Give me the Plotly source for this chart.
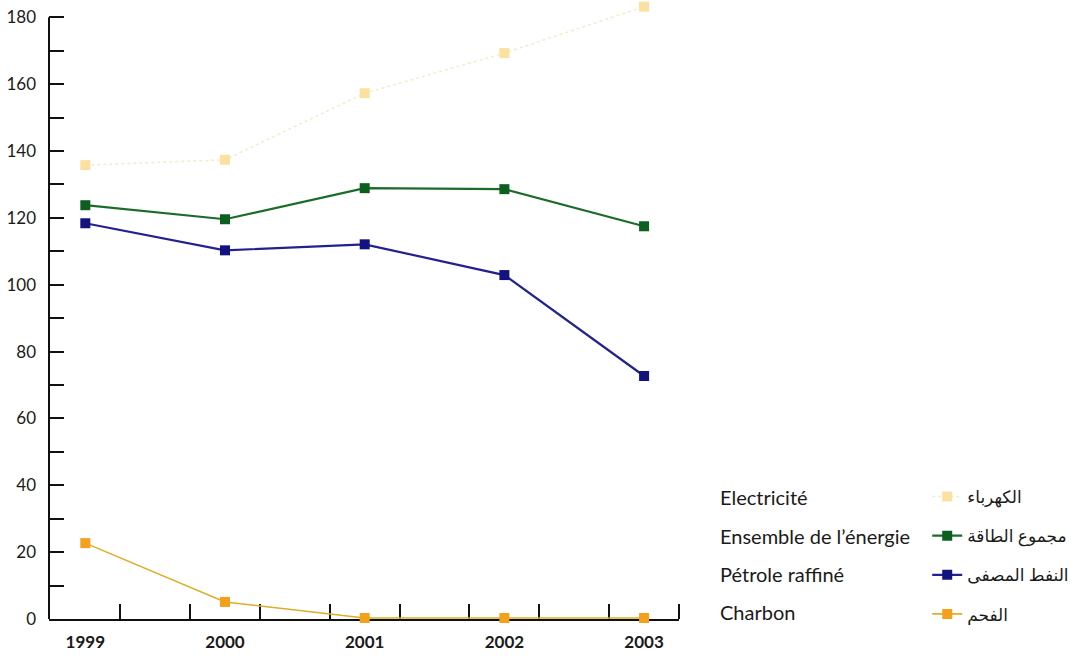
import plotly.graph_objects as go

years = [1999, 2000, 2001, 2002, 2003]
year_labels = ["1999", "2000", "2001", "2002", "2003"]

electricite = [135.8, 137.4, 157.3, 169.3, 183.2]
ensemble_energie = [123.8, 119.6, 128.9, 128.6, 117.5]
petrole_raffine = [118.4, 110.3, 112.1, 102.9, 72.7]
charbon = [22.7, 5.1, 0.3, 0.3, 0.3]

labels_fr = ["Electricité", "Ensemble de l\u2019énergie", "Pétrole raffiné", "Charbon"]
labels_ar = ["الكهرباء", "مجموع الطاقة", "النفط المصفى", "الفحم"]

y_ticks = [0, 20, 40, 60, 80, 100, 120, 140, 160, 180]
y_axis_top = 180

FONT = "Lato, 'DejaVu Sans', sans-serif"

series = [
    (electricite, "#fbe0a0", "#f4ecc6", "dot", 1.5),
    (ensemble_energie, "#0c5f1e", "#1b6b2b", "solid", 2.2),
    (petrole_raffine, "#13137f", "#22228f", "solid", 2.2),
    (charbon, "#f4a01d", "#dcae2a", "solid", 1.6),
]

fig = go.Figure()
for i, (vals, mcol, lcol, dash, lw) in enumerate(series):
    fig.add_trace(go.Scatter(
        x=years, y=vals, mode="lines+markers",
        name=labels_ar[i], legendgroup=f"g{i}",
        line=dict(color=lcol, width=lw, dash=dash),
        marker=dict(symbol="square", size=10, color=mcol),
        cliponaxis=False,
    ))

# y axis line stops at the top tick (180)
fig.add_shape(type="line", xref="paper", yref="y", x0=0, x1=0,
              y0=0, y1=y_axis_top, line=dict(color="#111111", width=2),
              layer="below")

# French legend labels
row_y = [0.1984, 0.135, 0.0732, 0.0114]
for i, t in enumerate(labels_fr):
    fig.add_annotation(
        text=t, xref="paper", yref="paper", x=1.0619, y=row_y[i],
        xanchor="left", yanchor="middle", showarrow=False,
        font=dict(family=FONT, size=20, color="#1a1a1a"),
    )

fig.update_layout(
    width=1075, height=658,
    margin=dict(l=49, r=396, t=4, b=39, pad=0, autoexpand=False),
    plot_bgcolor="white", paper_bgcolor="white",
    font=dict(family=FONT, size=16, color="#1a1a1a"),
    showlegend=True,
    legend=dict(
        x=1.394, y=0.2276, xanchor="left", yanchor="top",
        xref="paper", yref="paper",
        traceorder="grouped", tracegroupgap=14,
        font=dict(family=FONT, size=17, color="#1a1a1a"),
        bgcolor="rgba(0,0,0,0)", itemclick=False,
    ),
    xaxis=dict(
        range=[1998.74, 2003.25], automargin=False,
        tickmode="array", tickvals=years, ticktext=year_labels,
        ticks="", showgrid=False, zeroline=False,
        showline=True, linecolor="#111111", linewidth=2,
        tickfont=dict(family=FONT, size=17, color="#1a1a1a", weight="bold"),
        ticklabelstandoff=7,
        layer="below traces",
        minor=dict(
            tickvals=[1999.25, 1999.75, 2000.25, 2000.75, 2001.25,
                      2001.75, 2002.25, 2002.75, 2003.25],
            ticks="inside", ticklen=15, tickwidth=2, tickcolor="#111111",
            showgrid=False,
        ),
    ),
    yaxis=dict(
        range=[0, 184], automargin=False,
        tickmode="array", tickvals=y_ticks,
        ticks="inside", ticklen=15, tickwidth=2, tickcolor="#111111",
        showgrid=False, zeroline=False, showline=False,
        ticklabelstandoff=12,
        tickfont=dict(family=FONT, size=17, color="#1a1a1a"),
        layer="below traces",
        minor=dict(
            dtick=10, tick0=0,
            ticks="inside", ticklen=15, tickwidth=2, tickcolor="#111111",
            showgrid=False,
        ),
    ),
)

fig.write_html("out.html", config={"displayModeBar": False},
               post_script="document.body.style.margin='0';")
